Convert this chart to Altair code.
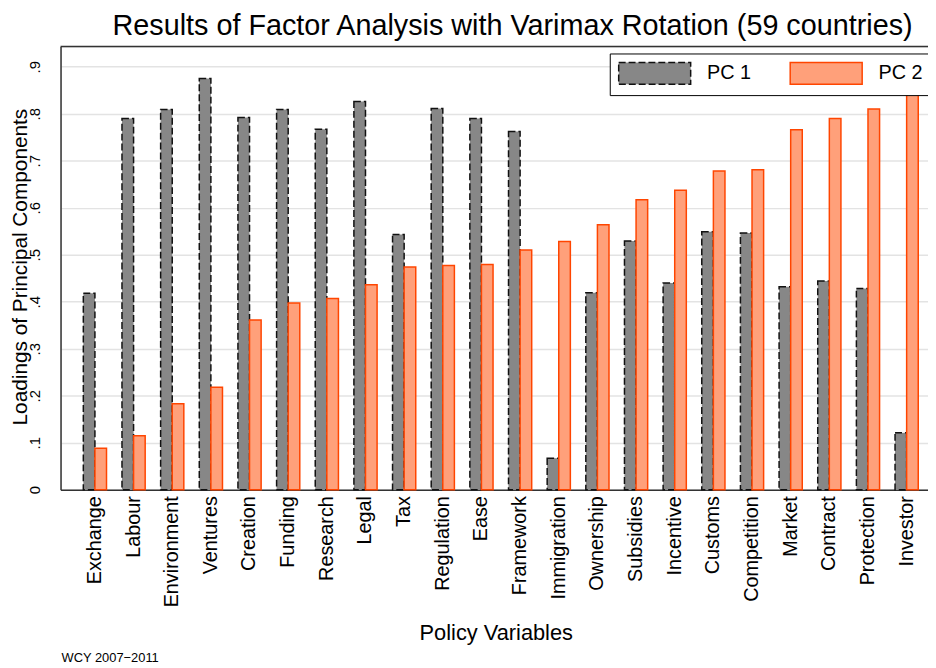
import altair as alt
import pandas as pd

categories = ["Exchange", "Labour", "Environment", "Ventures", "Creation", "Funding",
              "Research", "Legal", "Tax", "Regulation", "Ease", "Framework",
              "Immigration", "Ownership", "Subsidies", "Incentive", "Customs",
              "Competition", "Market", "Contract", "Protection", "Investor"]
pc1 = [0.418, 0.790, 0.809, 0.875, 0.792, 0.809, 0.767, 0.826, 0.543, 0.811, 0.790,
       0.762, 0.067, 0.419, 0.529, 0.440, 0.549, 0.546, 0.432, 0.444, 0.428, 0.121]
pc2 = [0.088, 0.115, 0.183, 0.218, 0.361, 0.397, 0.407, 0.436, 0.474, 0.477, 0.479,
       0.510, 0.528, 0.564, 0.617, 0.637, 0.678, 0.681, 0.766, 0.790, 0.810, 0.870]
series_names = ["PC 1", "PC 2"]
y_ticks = [0, 0.1, 0.2, 0.3, 0.4, 0.5, 0.6, 0.7, 0.8, 0.9]
title_text = "Results of Factor Analysis with Varimax Rotation (59 countries)"
note_text = "WCY 2007\u22122011"

rows = []
for c, a, b in zip(categories, pc1, pc2):
    rows.append({"variable": c, "series": series_names[0], "loading": a})
    rows.append({"variable": c, "series": series_names[1], "loading": b})
df = pd.DataFrame(rows)

W, H = 875, 447
FONT = "Liberation Sans"

legend = alt.Legend(
    orient="none", legendX=554, legendY=7, direction="horizontal",
    strokeColor="black", fillColor="white", padding=8, cornerRadius=0,
    symbolType="M-1,-1H5.6V1H-1Z", symbolSize=484, symbolStrokeWidth=1.5,
    labelFont=FONT, labelFontSize=20, labelColor="black", labelOffset=66,
    columnPadding=36,
)

bars = alt.Chart(df).mark_bar(strokeWidth=1.5).encode(
    x=alt.X("variable:N", sort=categories, title="Policy Variables",
            scale=alt.Scale(paddingInner=0.4, paddingOuter=0.421, align=0.70),
            axis=alt.Axis(labelAngle=270, labelFont=FONT, labelFontSize=20,
                          labelColor="black", labelPadding=6, ticks=False,
                          domainColor="#333333", domainWidth=1.5,
                          titleFont=FONT, titleFontSize=22, titleFontWeight="normal",
                          titleColor="black", titleX=439, titleY=144,
                          titleAlign="center", titleBaseline="middle")),
    xOffset=alt.XOffset("series:N", sort=series_names,
                        scale=alt.Scale(paddingInner=0, paddingOuter=0)),
    y=alt.Y("loading:Q", title="Loadings of Principal Components",
            scale=alt.Scale(domain=[0, 0.943], nice=False, zero=True),
            axis=alt.Axis(values=y_ticks, labelAngle=270, labelAlign="center",
                          labelBaseline="bottom", labelPadding=18,
                          labelExpr="datum.value == 0 ? '0' : replace(format(datum.value, '.1f'), '0.', '.')",
                          labelFont=FONT, labelFontSize=15, labelColor="black",
                          ticks=False, domainColor="#333333", domainWidth=1.5,
                          gridColor="#e3e3e3", gridWidth=1.5,
                          titleFont=FONT, titleFontSize=21, titleFontWeight="normal",
                          titleColor="black", titleX=-40, titleY=222, titleAngle=270,
                          titleAlign="center", titleBaseline="middle")),
    fill=alt.Fill("series:N", title=None,
                  scale=alt.Scale(domain=series_names, range=["#878787", "#FFA07A"]),
                  legend=legend),
    stroke=alt.Stroke("series:N", title=None,
                      scale=alt.Scale(domain=series_names, range=["#111111", "#FF4500"]),
                      legend=legend),
    strokeDash=alt.StrokeDash("series:N", title=None,
                              scale=alt.Scale(domain=series_names, range=[[7, 3], [1, 0]]),
                              legend=legend),
)

frame_top = alt.Chart(pd.DataFrame({"k": [0]})).mark_rule(
    color="#333333", strokeWidth=1.5
).encode(x=alt.value(0), x2=alt.value(W), y=alt.value(0))

title = alt.Chart(pd.DataFrame({"t": [title_text]})).mark_text(
    align="center", baseline="alphabetic", font=FONT, fontSize=29, color="black"
).encode(x=alt.value(456), y=alt.value(-12), text="t:N")

note = alt.Chart(pd.DataFrame({"note": [note_text]})).mark_text(
    align="left", baseline="middle", font=FONT, fontSize=13, color="black"
).encode(x=alt.value(1), y=alt.value(617), text="note:N")

chart = alt.layer(bars, frame_top, title, note).properties(
    width=W, height=H,
    autosize=alt.AutoSizeParams(type="none"),
    padding={"left": 53, "top": 36, "right": 0, "bottom": 177},
).configure_view(strokeWidth=0).configure(background="white")

chart.save("out.html", embed_options={"renderer": "svg", "actions": False})
